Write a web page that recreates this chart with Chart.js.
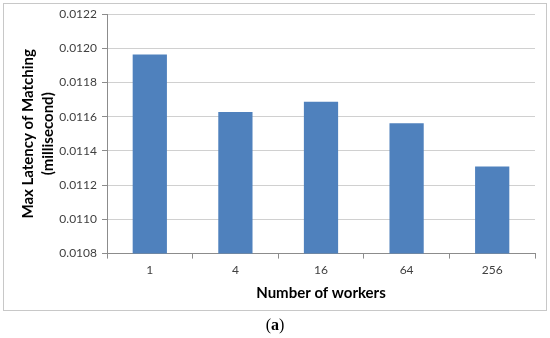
<!DOCTYPE html>
<html>
<head>
<meta charset="utf-8">
<script src="https://cdn.jsdelivr.net/npm/chart.js@4/dist/chart.umd.min.js"></script>
<style>
  html, body { margin: 0; padding: 0; background: #fff; }
  #wrap { position: relative; width: 550px; height: 338px; }
  #c { position: absolute; left: 0; top: 0; }
  #frame { position: absolute; left: 3px; top: 3px; width: 542px; height: 306px; border: 1px solid #c8c8c8; pointer-events: none; }
  #cap { position: absolute; left: 0; width: 550px; top: 316px; text-align: center; font-family: "Liberation Serif", "DejaVu Serif", serif; font-size: 16px; color: #000; }
</style>
</head>
<body>
<div id="wrap">
  <canvas id="c" width="550" height="338"></canvas>
  <div id="frame"></div>
  <div id="cap">(<b>a</b>)</div>
</div>
<script>
const categories = ["1", "4", "16", "64", "256"];
const maxLatency = [0.011964, 0.011628, 0.011688, 0.011561, 0.011309];
const yMin = 0.0108, yMax = 0.0122, yStep = 0.0002;
const xTitle = "Number of workers";
const yTitle = ["Max Latency of Matching", "(millisecond)"];

new Chart(document.getElementById('c'), {
  type: 'bar',
  data: {
    labels: categories,
    datasets: [{
      data: maxLatency,
      backgroundColor: '#4f81bd',
      borderWidth: 0,
      barPercentage: 0.4,
      categoryPercentage: 1.0
    }]
  },
  options: {
    responsive: false,
    animation: false,
    devicePixelRatio: 1,
    layout: { padding: { left: 0, right: 15, top: 14, bottom: 36 } },
    plugins: { legend: { display: false }, tooltip: { enabled: false } },
    scales: {
      x: {
        grid: { display: true, drawOnChartArea: false, offset: true, tickLength: 5, color: '#8c8c8c' },
        border: { color: '#8c8c8c' },
        ticks: { font: { family: 'Lato', size: 12 }, color: '#404040', padding: 4 },
        title: { display: true, text: xTitle, font: { family: 'Lato', size: 15, weight: 'bold' }, color: '#000', padding: { top: 3, bottom: 0 } }
      },
      y: {
        min: yMin, max: yMax,
        afterFit: (s) => { s.width = 107; },
        grid: { color: '#d0d0d0', tickLength: 5, tickColor: '#8c8c8c' },
        border: { color: '#8c8c8c' },
        ticks: {
          stepSize: yStep,
          font: { family: 'Lato', size: 12 }, color: '#404040', padding: 5,
          callback: (v) => v.toFixed(4)
        },
        title: { display: true, text: yTitle, font: { family: 'Lato', size: 15, weight: 'bold', lineHeight: 1.35 }, color: '#000', padding: { top: 18, bottom: 0 } }
      }
    }
  }
});
</script>
</body>
</html>
